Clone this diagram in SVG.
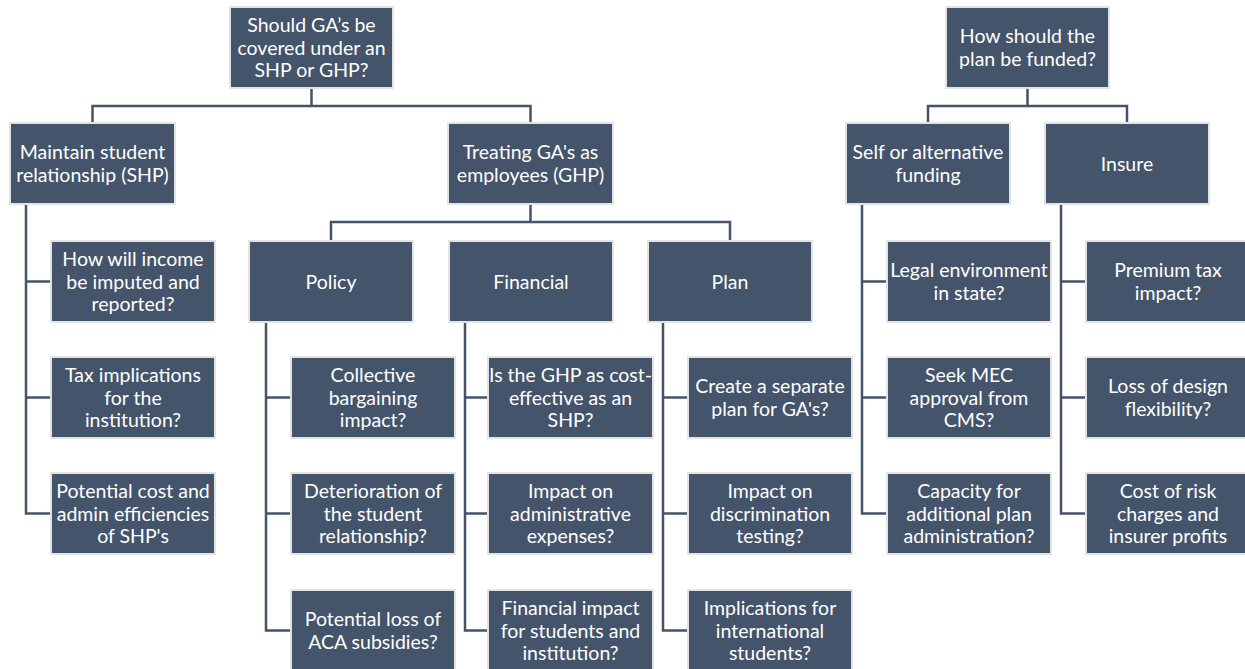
<svg xmlns="http://www.w3.org/2000/svg" width="1245" height="669" viewBox="0 0 1245 669">
<style>
.box{fill:#44546A;stroke:#E3E3E3;stroke-width:2}
.t{font-family:Lato,"Liberation Sans",sans-serif;font-size:19.5px;fill:#FFFFFF;text-anchor:middle}
.c{stroke:#44546A;stroke-width:2.5;fill:none}
</style>
<rect width="1245" height="669" fill="#FFFFFF"/>
<g id="connectors">
<path class="c" d="M311.5,88 V106 M92.5,123 V106 H530.5 V123"/>
<path class="c" d="M530.5,205 V222 M331,241 V222 H730 V241"/>
<path class="c" d="M1027.5,88 V106 M928,123 V106 H1127 V123"/>
<path class="c" d="M26,205 V513.5 H51 M26,281.5 H51 M26,397.5 H51"/>
<path class="c" d="M266,322 V630.5 H291 M266,397.5 H291 M266,513.5 H291"/>
<path class="c" d="M465,322 V630.5 H488 M465,397.5 H488 M465,513.5 H488"/>
<path class="c" d="M663,322 V630.5 H688 M663,397.5 H688 M663,513.5 H688"/>
<path class="c" d="M862,205 V513.5 H887 M862,281.5 H887 M862,397.5 H887"/>
<path class="c" d="M1061,205 V513.5 H1086 M1061,281.5 H1086 M1061,397.5 H1086"/>
</g>
<g id="root1"><rect class="box" x="230" y="7" width="163" height="81"/>
<text class="t" x="311.5" y="31.8">Should GA’s be</text><text class="t" x="311.5" y="54.5">covered under an</text><text class="t" x="311.5" y="77.2">SHP or GHP?</text></g>
<g id="root2"><rect class="box" x="946" y="7" width="163" height="81"/>
<text class="t" x="1027.5" y="43.2">How should the</text><text class="t" x="1027.5" y="65.9">plan be funded?</text></g>
<g id="maintain"><rect class="box" x="10" y="123" width="165" height="81"/>
<text class="t" x="92.5" y="159.2">Maintain student</text><text class="t" x="92.5" y="181.9">relationship (SHP)</text></g>
<g id="treating"><rect class="box" x="448" y="123" width="165" height="81"/>
<text class="t" x="530.5" y="159.2">Treating GA's as</text><text class="t" x="530.5" y="181.9">employees (GHP)</text></g>
<g id="self"><rect class="box" x="846" y="123" width="164" height="81"/>
<text class="t" x="928" y="159.2">Self or alternative</text><text class="t" x="928" y="181.9">funding</text></g>
<g id="insure"><rect class="box" x="1045" y="123" width="164" height="81"/>
<text class="t" x="1127" y="170.5">Insure</text></g>
<g id="income"><rect class="box" x="51" y="241" width="164" height="81"/>
<text class="t" x="133" y="265.8">How will income</text><text class="t" x="133" y="288.5">be imputed and</text><text class="t" x="133" y="311.2">reported?</text></g>
<g id="tax"><rect class="box" x="51" y="357" width="164" height="81"/>
<text class="t" x="133" y="381.8">Tax implications</text><text class="t" x="133" y="404.5">for the</text><text class="t" x="133" y="427.2">institution?</text></g>
<g id="costadmin"><rect class="box" x="51" y="473" width="164" height="81"/>
<text class="t" x="133" y="497.8">Potential cost and</text><text class="t" x="133" y="520.5">admin efficiencies</text><text class="t" x="133" y="543.2">of SHP's</text></g>
<g id="policy"><rect class="box" x="249" y="241" width="164" height="81"/>
<text class="t" x="331" y="288.5">Policy</text></g>
<g id="financial"><rect class="box" x="449" y="241" width="164" height="81"/>
<text class="t" x="531" y="288.5">Financial</text></g>
<g id="plan"><rect class="box" x="648" y="241" width="164" height="81"/>
<text class="t" x="730" y="288.5">Plan</text></g>
<g id="collective"><rect class="box" x="291" y="357" width="164" height="81"/>
<text class="t" x="373" y="381.8">Collective</text><text class="t" x="373" y="404.5">bargaining</text><text class="t" x="373" y="427.2">impact?</text></g>
<g id="deterioration"><rect class="box" x="291" y="473" width="164" height="81"/>
<text class="t" x="373" y="497.8">Deterioration of</text><text class="t" x="373" y="520.5">the student</text><text class="t" x="373" y="543.2">relationship?</text></g>
<g id="aca"><rect class="box" x="291" y="590" width="164" height="81"/>
<text class="t" x="373" y="626.2">Potential loss of</text><text class="t" x="373" y="648.9">ACA subsidies?</text></g>
<g id="costeffective"><rect class="box" x="488" y="357" width="165" height="81"/>
<text class="t" x="570.5" y="381.8">Is the GHP as cost-</text><text class="t" x="570.5" y="404.5">effective as an</text><text class="t" x="570.5" y="427.2">SHP?</text></g>
<g id="adminexp"><rect class="box" x="488" y="473" width="165" height="81"/>
<text class="t" x="570.5" y="497.8">Impact on</text><text class="t" x="570.5" y="520.5">administrative</text><text class="t" x="570.5" y="543.2">expenses?</text></g>
<g id="finimpact"><rect class="box" x="488" y="590" width="165" height="81"/>
<text class="t" x="570.5" y="614.8">Financial impact</text><text class="t" x="570.5" y="637.5">for students and</text><text class="t" x="570.5" y="660.2">institution?</text></g>
<g id="separate"><rect class="box" x="688" y="357" width="164" height="81"/>
<text class="t" x="770" y="393.2">Create a separate</text><text class="t" x="770" y="415.9">plan for GA's?</text></g>
<g id="discrimination"><rect class="box" x="688" y="473" width="164" height="81"/>
<text class="t" x="770" y="497.8">Impact on</text><text class="t" x="770" y="520.5">discrimination</text><text class="t" x="770" y="543.2">testing?</text></g>
<g id="international"><rect class="box" x="688" y="590" width="164" height="81"/>
<text class="t" x="770" y="614.8">Implications for</text><text class="t" x="770" y="637.5">international</text><text class="t" x="770" y="660.2">students?</text></g>
<g id="legal"><rect class="box" x="887" y="241" width="164" height="81"/>
<text class="t" x="969" y="277.2">Legal environment</text><text class="t" x="969" y="299.9">in state?</text></g>
<g id="mec"><rect class="box" x="887" y="357" width="164" height="81"/>
<text class="t" x="969" y="381.8">Seek MEC</text><text class="t" x="969" y="404.5">approval from</text><text class="t" x="969" y="427.2">CMS?</text></g>
<g id="capacity"><rect class="box" x="887" y="473" width="164" height="81"/>
<text class="t" x="969" y="497.8">Capacity for</text><text class="t" x="969" y="520.5">additional plan</text><text class="t" x="969" y="543.2">administration?</text></g>
<g id="premium"><rect class="box" x="1086" y="241" width="164" height="81"/>
<text class="t" x="1168" y="277.2">Premium tax</text><text class="t" x="1168" y="299.9">impact?</text></g>
<g id="design"><rect class="box" x="1086" y="357" width="164" height="81"/>
<text class="t" x="1168" y="393.2">Loss of design</text><text class="t" x="1168" y="415.9">flexibility?</text></g>
<g id="risk"><rect class="box" x="1086" y="473" width="164" height="81"/>
<text class="t" x="1168" y="497.8">Cost of risk</text><text class="t" x="1168" y="520.5">charges and</text><text class="t" x="1168" y="543.2">insurer profits</text></g>
</svg>
